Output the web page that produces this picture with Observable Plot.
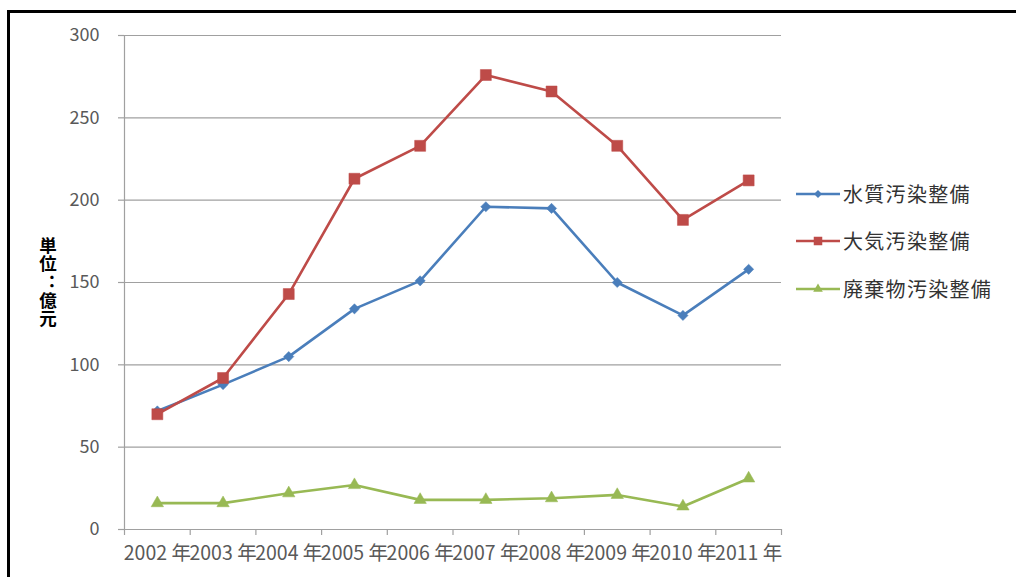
<!DOCTYPE html>
<html>
<head>
<meta charset="utf-8">
<script src="https://cdn.jsdelivr.net/npm/d3@7"></script>
<script src="https://cdn.jsdelivr.net/npm/@observablehq/plot@0.6"></script>
<style>
  html, body { margin: 0; padding: 0; background: #fff; }
  #wrap { position: relative; width: 1016px; height: 577px; overflow: hidden; font-family: "Noto Sans CJK JP", "Noto Sans", sans-serif; }
  #frame { position: absolute; left: 7px; top: 10px; width: 1100px; height: 700px; border-left: 3px solid #000; border-top: 3px solid #000; box-sizing: border-box; pointer-events: none; }
  #legend { position: absolute; left: 796px; top: 170px; }
  .row { display: flex; align-items: center; height: 47.5px; }
  .row span { font-size: 20px; color: #333; margin-left: 3px; letter-spacing: 1.3px; line-height: 1; }
  #ylabel {
    position: absolute; left: 39px; top: 237px;
    writing-mode: vertical-rl; text-orientation: upright;
    font-feature-settings: "vert" 0, "vrt2" 0;
    font-size: 17.5px; font-weight: bold; color: #000; line-height: 1;
    letter-spacing: 0.6px;
  }
</style>
</head>
<body>
<div id="wrap"><div id="frame"></div><div id="legend"></div><div id="ylabel"></div></div>
<script>
// Categories and series (unit: 億元)
const years = ["2002", "2003", "2004", "2005", "2006", "2007", "2008", "2009", "2010", "2011"];
const yearLabels = years.map(y => y + " 年");
const seriesNames = ["水質汚染整備", "大気汚染整備", "廃棄物汚染整備"];
const water = [72, 88, 105, 134, 151, 196, 195, 150, 130, 158];
const air = [70, 92, 143, 213, 233, 276, 266, 233, 188, 212];
const waste = [16, 16, 22, 27, 18, 18, 19, 21, 14, 31];
const yTicks = [0, 50, 100, 150, 200, 250, 300];
const yLabel = "単位：億元";

const colors = ["#4a7ebb", "#be4b48", "#98b954"];
const symbols = ["diamond2", "square", "triangle"];
const radii = [4.6, 6.2, 4.6];

const valuesBySeries = [water, air, waste];
const rows = [];
seriesNames.forEach((s, k) => {
  valuesBySeries[k].forEach((v, i) => rows.push({series: s, year: years[i], pos: i + 0.5, value: v}));
});

const grey = "#a0a0a0";
const font = "'Noto Sans CJK JP', sans-serif";

const chart = Plot.plot({
  width: 1016,
  height: 577,
  marginLeft: 124,
  marginRight: 235,
  marginTop: 35,
  marginBottom: 48,
  style: {fontFamily: font, background: "transparent", overflow: "visible"},
  x: {type: "linear", domain: [0, years.length], axis: null},
  y: {domain: [0, 300], axis: null},
  color: {domain: seriesNames, range: colors},
  marks: [
    Plot.gridY(yTicks, {stroke: grey, strokeOpacity: 1, strokeWidth: 1.2}),
    Plot.axisY(yTicks, {tickSize: 6, tickPadding: 19, stroke: grey, strokeWidth: 1.2, fill: "#595959", fontSize: 18, label: null}),
    Plot.ruleX([0], {stroke: grey, strokeWidth: 1.2}),
    Plot.ruleY([0], {stroke: grey, strokeWidth: 1.2}),
    // boundary ticks between year categories
    Plot.axisX(d3.range(years.length + 1), {tickSize: 6, stroke: grey, strokeWidth: 1.2, tickFormat: () => "", label: null}),
    // year labels centred on each category
    Plot.axisX(years.map((_, i) => i + 0.5), {tickSize: 0, tickPadding: 17, fill: "#595959", fontSize: 19.5, tickFormat: v => yearLabels[Math.floor(v)], label: null}),
    Plot.line(rows, {x: "pos", y: "value", z: "series", stroke: "series", strokeWidth: 2.6}),
    ...seriesNames.map((s, k) =>
      Plot.dot(rows.filter(d => d.series === s), {x: "pos", y: "value", symbol: () => symbols[k], fill: colors[k], stroke: colors[k], strokeWidth: 0.5, r: radii[k]})
    )
  ],
  symbol: {domain: symbols, range: symbols}
});

const wrap = document.getElementById("wrap");
chart.style.position = "absolute";
chart.style.left = "0px";
chart.style.top = "0px";
wrap.insertBefore(chart, wrap.firstChild);

// vertical unit label
document.getElementById("ylabel").textContent = yLabel;

// legend: line with marker + series name
const legend = d3.select("#legend");
seriesNames.forEach((s, k) => {
  const row = legend.append("div").attr("class", "row");
  const svg = row.append("svg").attr("width", 44).attr("height", 16);
  svg.append("line").attr("x1", 0).attr("x2", 44).attr("y1", 8).attr("y2", 8)
    .attr("stroke", colors[k]).attr("stroke-width", 2.6);
  const sym = {diamond2: d3.symbolDiamond2, square: d3.symbolSquare, triangle: d3.symbolTriangle}[symbols[k]];
  svg.append("path").attr("transform", "translate(22,8)")
    .attr("d", d3.symbol(sym, Math.PI * radii[k] * radii[k] * 0.6)())
    .attr("fill", colors[k]);
  row.append("span").text(s);
});
</script>
</body>
</html>
